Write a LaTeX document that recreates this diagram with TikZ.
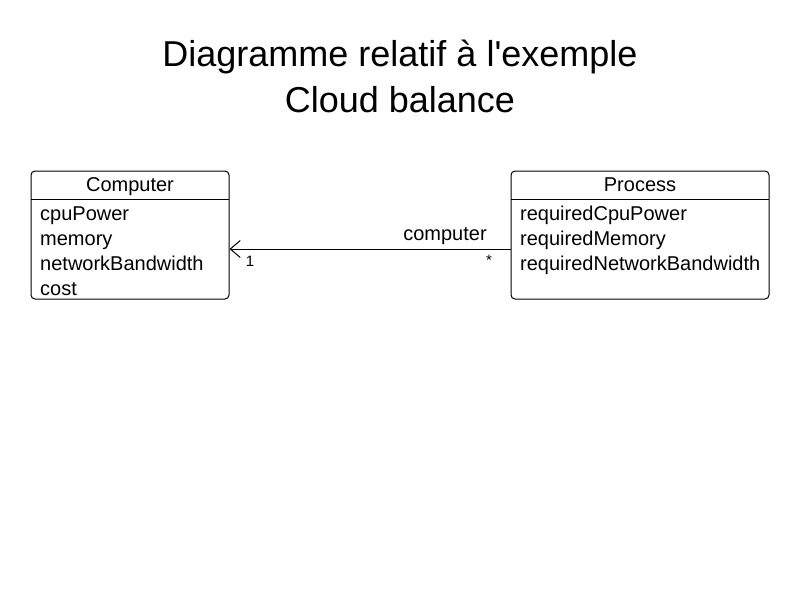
\documentclass[tikz,border=0pt]{standalone}
\usepackage{fontspec}
\setmainfont{Liberation Sans}
\usetikzlibrary{arrows.meta}
\begin{document}
\begin{tikzpicture}[x=1pt,y=-1pt,
  classbox/.style={draw, line width=1pt, rounded corners=4pt, minimum width=198pt, minimum height=128pt, inner sep=0pt},
  txt/.style={inner sep=0pt, font=\fontsize{20}{22}\selectfont},
  small/.style={inner sep=0pt, font=\fontsize{15}{17}\selectfont},
  title/.style={inner sep=0pt, font=\fontsize{36}{40}\selectfont}]
\useasboundingbox (0,0) rectangle (800,600);
\node[title, anchor=base] (t1) at (400,66) {Diagramme relatif à l\textquotesingle exemple};
\node[title, anchor=base] (t2) at (400,112) {Cloud balance};
% Computer
\node[classbox] (comp) at (130,235) {};
\draw[line width=1pt] (31,199) -- (229,199);
\node[txt, anchor=base] (compname) at (130,191) {Computer};
\node[txt, anchor=base west] (a1) at (40,220) {cpuPower};
\node[txt, anchor=base west] (a2) at (40,245) {memory};
\node[txt, anchor=base west] (a3) at (40,270) {networkBandwidth};
\node[txt, anchor=base west] (a4) at (40,295) {cost};
% Process
\node[classbox, minimum width=258pt] (proc) at (640,235) {};
\draw[line width=1pt] (511,199) -- (769,199);
\node[txt, anchor=base] (procname) at (640,191) {Process};
\node[txt, anchor=base west] (b1) at (520,220) {requiredCpuPower};
\node[txt, anchor=base west] (b2) at (520,245) {requiredMemory};
\node[txt, anchor=base west] (b3) at (520,270) {requiredNetworkBandwidth};
% association
\coordinate (pe) at (proc.west |- 0,249);
\coordinate (ce) at (comp.east |- 0,249);
\draw[line width=1pt, -{Straight Barb[length=10pt,width=17pt,line width=1pt]}] (pe) -- (ce);
\node[txt, anchor=base] (lab) at (445,240) {computer};
\node[small, anchor=base] (m1) at (250,266) {1};
\node[small, anchor=base] (m2) at (489,265) {*};
\end{tikzpicture}
\end{document}
